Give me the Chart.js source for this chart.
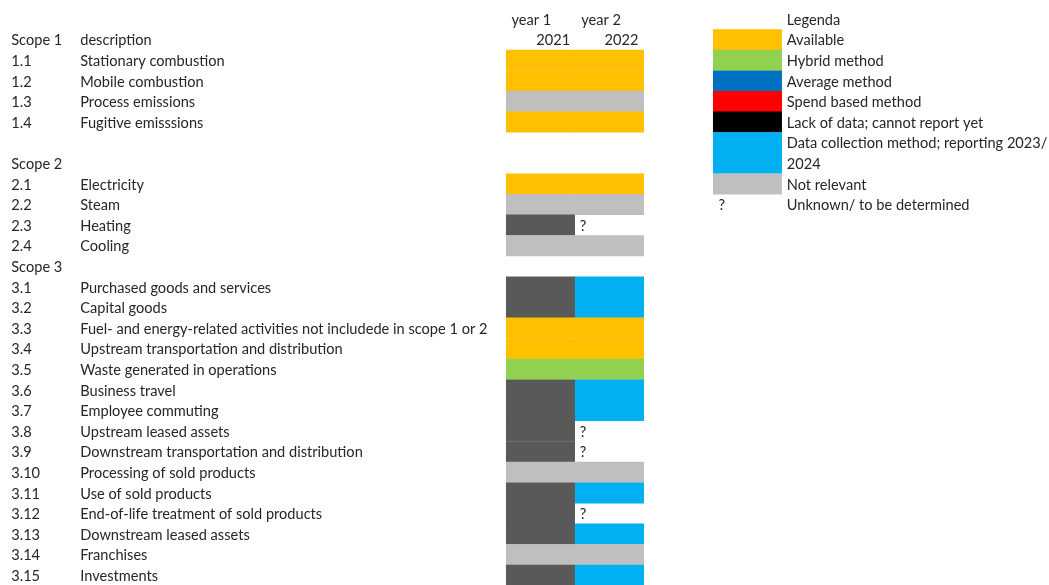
<!DOCTYPE html>
<html>
<head>
<meta charset="utf-8">
<script src="https://cdn.jsdelivr.net/npm/chart.js@4.4.1/dist/chart.umd.min.js"></script>
<style>
  html, body { margin: 0; padding: 0; background: #fff; overflow: hidden; }
  #wrap { width: 1049px; height: 585px; }
</style>
</head>
<body>
<div id="wrap"><canvas id="scopeChart"></canvas></div>
<script>
// 행 코드와 설명 (0번 행은 머리글)
const rowCodes = ['', 'Scope 1', '1.1', '1.2', '1.3', '1.4', '', 'Scope 2', '2.1', '2.2', '2.3', '2.4', 'Scope 3',
  '3.1', '3.2', '3.3', '3.4', '3.5', '3.6', '3.7', '3.8', '3.9', '3.10', '3.11', '3.12', '3.13', '3.14', '3.15'];
const rowNames = ['', 'description', 'Stationary combustion', 'Mobile combustion', 'Process emissions', 'Fugitive emisssions',
  '', '', 'Electricity', 'Steam', 'Heating', 'Cooling', '',
  'Purchased goods and services', 'Capital goods', 'Fuel- and energy-related activities not includede in scope 1 or 2',
  'Upstream transportation and distribution', 'Waste generated in operations', 'Business travel', 'Employee commuting',
  'Upstream leased assets', 'Downstream transportation and distribution', 'Processing of sold products',
  'Use of sold products', 'End-of-life treatment of sold products', 'Downstream leased assets', 'Franchises', 'Investments'];

// 연도 머리글
const yearHeaders = ['year 1', 'year 2'];
const yearLabels = ['2021', '2022'];

// 셀 상태 (A=available, H=hybrid, N=not relevant, X=lack of data, D=data collection, ?=unknown)
const year1Status = ['', '', 'A', 'A', 'N', 'A', '', '', 'A', 'N', 'X', 'N', '',
  'X', 'X', 'A', 'A', 'H', 'X', 'X', 'X', 'X', 'N', 'X', 'X', 'X', 'N', 'X'];
const year2Status = ['', '', 'A', 'A', 'N', 'A', '', '', 'A', 'N', '?', 'N', '',
  'D', 'D', 'A', 'A', 'H', 'D', 'D', '?', '?', 'N', 'D', '?', 'D', 'N', 'D'];

// 범례
const legendTitle = 'Legenda';
const legendRows = [1, 2, 3, 4, 5, 6, 7, 8];
const legendKeys = ['A', 'H', 'M', 'S', 'B', 'D', 'D', 'N'];
const legendLabels = ['Available', 'Hybrid method', 'Average method', 'Spend based method', 'Lack of data; cannot report yet',
  'Data collection method; reporting 2023/', '2024', 'Not relevant', 'Unknown/ to be determined'];

const statusColors = {
  A: '#FFC000', H: '#92D050', M: '#0070C0', S: '#FF0000', B: '#000000',
  D: '#00B0F0', N: '#BFBFBF', X: '#595959'
};

// 막대 데이터 만들기
function cells(status, col) {
  const out = [];
  status.forEach(function (s, i) {
    if (statusColors[s]) out.push({ x: [col, col + 1], y: i, c: statusColors[s] });
  });
  return out;
}
const year1Cells = cells(year1Status, 0);
const year2Cells = cells(year2Status, 1);
const legendCells = legendRows.map(function (r, i) {
  return { x: [3, 4], y: r, c: statusColors[legendKeys[i]] };
});

function ds(data) {
  return {
    data: data,
    backgroundColor: data.map(d => d.c),
    borderWidth: 0,
    grouped: false,
    categoryPercentage: 1,
    barPercentage: 1.02
  };
}

// 텍스트 그리기 플러그인
const textPlugin = {
  id: 'sheetText',
  afterDatasetsDraw(chart) {
    const ctx = chart.ctx, xs = chart.scales.x, ys = chart.scales.y;
    ctx.save();
    ctx.font = '14.6px Lato';
    ctx.fillStyle = '#262626';
    ctx.textBaseline = 'middle';
    function put(txt, xv, row, align) {
      ctx.textAlign = align || 'left';
      ctx.fillText(txt, xs.getPixelForValue(xv), ys.getPixelForValue(row) + 1);
    }
    rowCodes.forEach((t, i) => put(t, -7.17, i));
    rowNames.forEach((t, i) => put(t, -6.17, i));
    put(yearHeaders[0], 0.08, 0);
    put(yearHeaders[1], 1.09, 0);
    put(yearLabels[0], 0.93, 1, 'right');
    put(yearLabels[1], 1.92, 1, 'right');
    year1Status.forEach((s, i) => { if (s === '?') put('?', 0.07, i); });
    year2Status.forEach((s, i) => { if (s === '?') put('?', 1.07, i); });
    put(legendTitle, 4.07, 0);
    legendLabels.forEach((t, i) => put(t, 4.07, i + 1));
    put('?', 3.08, 9);
    ctx.restore();
  }
};

new Chart(document.getElementById('scopeChart'), {
  type: 'bar',
  data: { datasets: [ds(year1Cells), ds(year2Cells), ds(legendCells)] },
  options: {
    indexAxis: 'y',
    responsive: true,
    maintainAspectRatio: false,
    animation: false,
    layout: { padding: 0 },
    plugins: { legend: { display: false }, tooltip: { enabled: false } },
    scales: {
      x: { type: 'linear', display: false, offset: false, min: -7.333, max: 7.87 },
      y: {
        type: 'linear', display: false, offset: false, reverse: true, min: -0.927, max: 27.47,
        // 행마다 눈금 하나 (막대 두께가 한 행 높이가 되도록)
        afterBuildTicks: function (scale) {
          scale.ticks = rowCodes.map((_, i) => ({ value: i }));
        }
      }
    }
  },
  plugins: [textPlugin]
});
</script>
</body>
</html>
